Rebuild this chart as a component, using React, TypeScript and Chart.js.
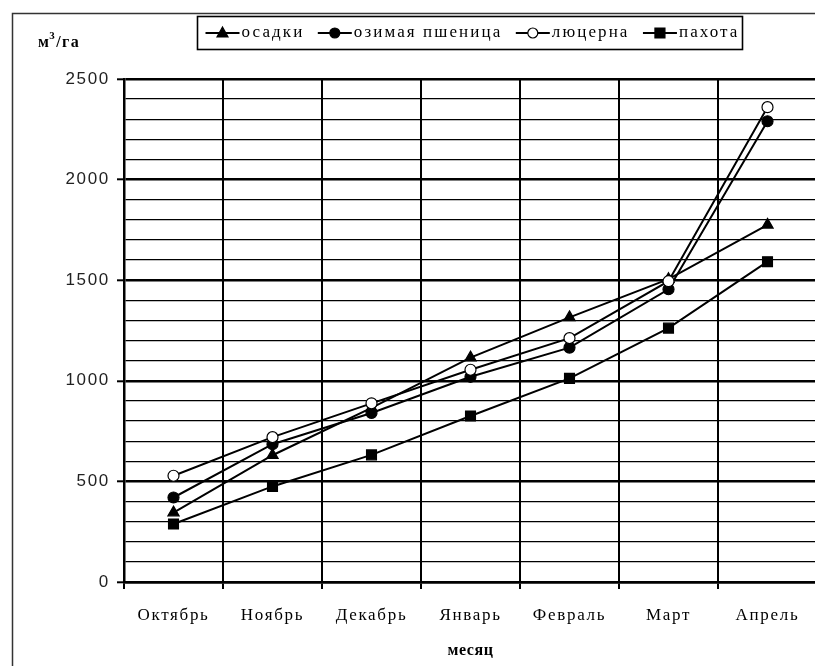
import { useEffect, useRef } from 'react';
import { Chart, registerables } from 'chart.js';

Chart.register(...registerables);

// Month categories along the x axis
const months = ['Октябрь', 'Ноябрь', 'Декабрь', 'Январь', 'Февраль', 'Март', 'Апрель'];

// Series values, м³/га
const osadki = [345, 630, 865, 1115, 1315, 1505, 1775];
const ozimayaPshenitsa = [420, 685, 840, 1020, 1165, 1455, 2290];
const lyutserna = [528, 720, 888, 1055, 1212, 1495, 2360];
const pakhota = [288, 475, 632, 825, 1012, 1262, 1592];

const seriesNames = ['осадки', 'озимая пшеница', 'люцерна', 'пахота'];

// Y axis range and labelled ticks
const yMin = 0;
const yMax = 2500;
const yMinorStep = 100;
const yMajorStep = 500;

const yUnitMain = 'м';
const yUnitSup = '3';
const yUnitRest = '/га';
const xTitle = 'месяц';

const SERIF = '"Liberation Serif", "Times New Roman", serif';
const SANS = '"Liberation Sans", Arial, sans-serif';

type Marker = 'triangle' | 'circle' | 'openCircle' | 'rect';
const markers: Marker[] = ['triangle', 'circle', 'openCircle', 'rect'];

function drawMarker(ctx: CanvasRenderingContext2D, kind: Marker, x: number, y: number) {
  ctx.save();
  ctx.strokeStyle = '#000';
  ctx.fillStyle = kind === 'openCircle' ? '#fff' : '#000';
  ctx.lineWidth = 1.2;
  ctx.beginPath();
  if (kind === 'triangle') {
    ctx.moveTo(x, y - 6);
    ctx.lineTo(x + 5.5, y + 4);
    ctx.lineTo(x - 5.5, y + 4);
    ctx.closePath();
  } else if (kind === 'rect') {
    ctx.rect(x - 5, y - 5, 10, 10);
  } else {
    ctx.arc(x, y, 5, 0, Math.PI * 2);
  }
  ctx.fill();
  ctx.stroke();
  ctx.restore();
}

const decorPlugin = {
  id: 'decor',
  beforeDraw(chart: any) {
    const ctx = chart.ctx as CanvasRenderingContext2D;
    ctx.save();
    ctx.fillStyle = '#fff';
    ctx.fillRect(0, 0, chart.width, chart.height);
    ctx.restore();
    (ctx as any).letterSpacing = '1.7px';
  },
  afterDraw(chart: any) {
    const ctx = chart.ctx as CanvasRenderingContext2D;
    ctx.save();

    // outer frame
    ctx.strokeStyle = '#333';
    ctx.lineWidth = 1.5;
    ctx.strokeRect(12.5, 13.5, chart.width + 20, chart.height + 20);

    // legend box
    const boxL = 197.5;
    const boxR = 742.5;
    ctx.strokeStyle = '#000';
    ctx.lineWidth = 1.6;
    ctx.strokeRect(boxL, 16.5, boxR - boxL, 33);

    ctx.font = `17px ${SERIF}`;
    (ctx as any).letterSpacing = '2.1px';
    ctx.fillStyle = '#000';
    ctx.textBaseline = 'middle';
    ctx.textAlign = 'left';
    const ly = 33;
    const sampleLen = 34;
    const textGap = 2;
    const widths = seriesNames.map((n) => sampleLen + textGap + ctx.measureText(n).width);
    const startX = boxL + 8;
    const endX = boxR - 3;
    const total = widths.reduce((a, b) => a + b, 0);
    const gap = Math.max(4, (endX - startX - total) / (seriesNames.length - 1));
    let x = startX;
    seriesNames.forEach((name, i) => {
      ctx.strokeStyle = '#000';
      ctx.lineWidth = 2;
      ctx.beginPath();
      ctx.moveTo(x, ly);
      ctx.lineTo(x + sampleLen, ly);
      ctx.stroke();
      drawMarker(ctx, markers[i], x + sampleLen / 2, ly);
      ctx.fillText(name, x + sampleLen + textGap, ly);
      x += widths[i] + gap;
    });

    // y unit label
    ctx.font = `bold 16px ${SERIF}`;
    (ctx as any).letterSpacing = '1.4px';
    ctx.textBaseline = 'alphabetic';
    let ux = 38;
    const uy = 47;
    ctx.fillText(yUnitMain, ux, uy);
    ux += ctx.measureText(yUnitMain).width - 1;
    ctx.font = `bold 11px ${SERIF}`;
    ctx.fillText(yUnitSup, ux, uy - 8);
    ux += ctx.measureText(yUnitSup).width;
    ctx.font = `bold 16px ${SERIF}`;
    ctx.fillText(yUnitRest, ux, uy);

    // x axis title
    const area = chart.chartArea;
    ctx.font = `bold 16px ${SERIF}`;
    (ctx as any).letterSpacing = '0.6px';
    ctx.textAlign = 'center';
    ctx.textBaseline = 'middle';
    ctx.fillText(xTitle, (area.left + area.right) / 2, 651);

    ctx.restore();
  },
};

export default function App() {
  const canvasRef = useRef<HTMLCanvasElement | null>(null);

  useEffect(() => {
    const canvas = canvasRef.current;
    if (!canvas) return;

    const base = {
      borderColor: '#000',
      borderWidth: 2,
      pointBorderColor: '#000',
      pointBorderWidth: 1.2,
      tension: 0,
    };

    const chart = new Chart(canvas, {
      type: 'line',
      data: {
        labels: months,
        datasets: [
          {
            ...base,
            label: seriesNames[2],
            data: lyutserna,
            pointStyle: 'circle',
            pointRadius: 5.5,
            pointBackgroundColor: '#fff',
            order: 1,
          },
          {
            ...base,
            label: seriesNames[1],
            data: ozimayaPshenitsa,
            pointStyle: 'circle',
            pointRadius: 5.5,
            pointBackgroundColor: '#000',
            order: 2,
          },
          {
            ...base,
            label: seriesNames[0],
            data: osadki,
            pointStyle: 'triangle',
            pointRadius: 6.5,
            pointBackgroundColor: '#000',
            order: 3,
          },
          {
            ...base,
            label: seriesNames[3],
            data: pakhota,
            pointStyle: 'rect',
            pointRadius: 7,
            pointBackgroundColor: '#000',
            order: 4,
          },
        ],
      },
      options: {
        responsive: false,
        animation: false,
        devicePixelRatio: 1,
        layout: { padding: { left: 0, top: 79, right: 13, bottom: 0 } },
        plugins: {
          legend: { display: false },
          title: { display: false },
          tooltip: { enabled: false },
        },
        scales: {
          x: {
            type: 'category',
            offset: true,
            afterFit(scale: any) {
              scale.height = 84;
            },
            grid: {
              offset: true,
              color: '#000',
              lineWidth: 2,
              tickLength: 7,
              tickColor: '#000',
              tickWidth: 2,
            },
            border: { display: true, color: '#000', width: 2.5 },
            ticks: {
              color: '#000',
              font: { family: SERIF, size: 17 },
              padding: 16,
              maxRotation: 0,
              autoSkip: false,
            },
          },
          y: {
            min: yMin,
            max: yMax,
            afterFit(scale: any) {
              scale.width = 124;
            },
            grid: {
              color: '#000',
              lineWidth: (c: any) => (c.tick && c.tick.value % yMajorStep === 0 ? 2.6 : 1.3),
              tickLength: 7,
              tickColor: (c: any) =>
                c.tick && c.tick.value % yMajorStep === 0 ? '#000' : 'rgba(0,0,0,0)',
              tickWidth: 2,
            },
            border: { display: true, color: '#000', width: 2.5 },
            ticks: {
              stepSize: yMinorStep,
              autoSkip: false,
              color: '#222',
              font: { family: SANS, size: 17 },
              padding: 7,
              callback: (v: any) => (Number(v) % yMajorStep === 0 ? String(v) : ''),
            },
          },
        },
      },
      plugins: [decorPlugin],
    });

    return () => chart.destroy();
  }, []);

  return (
    <div
      style={{
        position: 'fixed',
        left: 0,
        top: 0,
        width: 815,
        height: 666,
        overflow: 'hidden',
        background: '#fff',
      }}
    >
      <canvas
        ref={canvasRef}
        width={830}
        height={666}
        style={{ display: 'block', width: 830, height: 666 }}
      />
    </div>
  );
}
